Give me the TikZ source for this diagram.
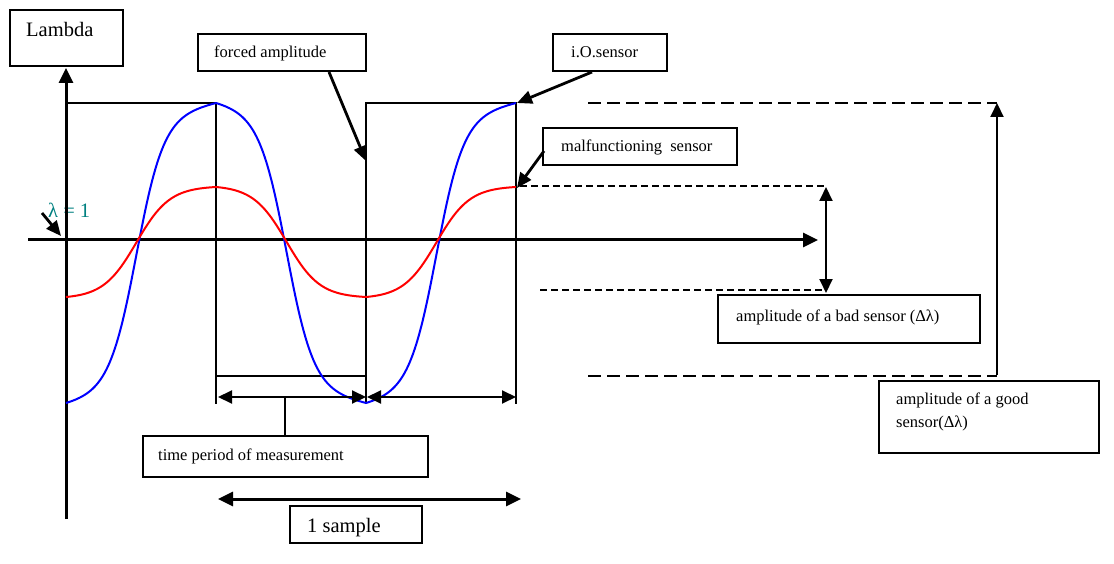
\documentclass[tikz,border=0pt]{standalone}
\usepackage{fontspec}
\setmainfont{Liberation Serif}
\usetikzlibrary{arrows.meta,calc}
\definecolor{lteal}{RGB}{0,128,128}
\pgfmathdeclarefunction{gfun}{3}{%
  \pgfmathparse{(tanh(#2*(#1-#3))+tanh(#2*#3))/(tanh(#2*(1-#3))+tanh(#2*#3))}%
}
\begin{document}
\begin{tikzpicture}[x=1pt,y=-1pt,
  box/.style={draw,line width=2pt,inner sep=0pt},
  lbl/.style={anchor=base west,inner sep=0pt,font=\fontsize{16.5}{19}\selectfont},
  big/.style={anchor=base west,inner sep=0pt,font=\fontsize{20.5}{24}\selectfont},
  conn/.style={line width=2.8pt,-{Triangle[length=15pt,width=13pt]}},
  dconn/.style={line width=2pt,{Triangle[length=14pt,width=13pt]}-{Triangle[length=14pt,width=13pt]}},
  axis/.style={line width=3pt,-{Triangle[length=15pt,width=14pt]}},
  wave/.style={line width=2pt},
  longdash/.style={line width=2pt,dash pattern=on 13pt off 6pt},
  shortdash/.style={line width=2pt,dash pattern=on 7pt off 4pt},
  curve/.style={line width=2pt,line join=round}]
\useasboundingbox (0,0) rectangle (1114,564);

% boxes
\node[box,minimum width=113pt,minimum height=56pt] (lam) at (66.5,38) {};
\node[big] (lamt) at (26,37) {Lambda};
\node[box,minimum width=168pt,minimum height=37pt] (forced) at (282,52.5) {};
\node[lbl] (forcedt) at (214,57.5) {forced amplitude};
\node[box,minimum width=114pt,minimum height=37pt] (io) at (610,52.5) {};
\node[lbl] (iot) at (571,57.5) {i.O.sensor};
\node[box,minimum width=194pt,minimum height=37pt] (malf) at (640,146.5) {};
\node[lbl] (malft) at (561,152) {malfunctioning\ \ sensor};
\node[box,minimum width=262pt,minimum height=48pt] (bad) at (849,319) {};
\node[lbl] (badt) at (736,321) {amplitude of a bad sensor (Δλ)};
\node[box,minimum width=220pt,minimum height=72pt] (good) at (989,417) {};
\node[lbl] (goodt1) at (896,404) {amplitude of a good};
\node[lbl] (goodt2) at (896,427) {sensor(Δλ)};
\node[box,minimum width=285pt,minimum height=41pt] (time) at (285.5,456.5) {};
\node[lbl] (timet) at (158,460.5) {time period of measurement};
\node[box,minimum width=132pt,minimum height=37pt] (samp) at (356,524.5) {};
\node[big] (sampt) at (307,532) {1 sample};
\node[big,text=lteal] (lamone) at (48,218) {λ = 1};

% coordinates
\coordinate (ybot) at (66,519);
\coordinate (ytop) at (66,68);
\coordinate (xl) at (28,240);
\coordinate (xr) at (818,240);
\coordinate (fatip) at (366,161);
\coordinate (iotip) at (517,103);
\coordinate (mftip) at (517,188);
\coordinate (l1s) at (42,213);
\coordinate (l1tip) at (61,236);
\coordinate (tm) at (285,397);

% axes
\draw[axis] (ybot) -- (ytop);
\draw[axis] (xl) -- (xr);

% forced square wave
\draw[wave] (66,103) -- (216,103) -- (216,404);
\draw[wave] (216,376) -- (366,376);
\draw[wave] (366,404) -- (366,103) -- (516,103) -- (516,404);

% curves (three half periods)
\foreach \i/\s in {0/1,1/-1,2/1}{
  \draw[curve,blue] plot[domain=0:1,samples=90] ({66+150*\i+150*\x},{253-150*\s*(2*(0.9*gfun(\x,5.5,0.47)+0.1*\x)-1)});
  \draw[curve,red] plot[domain=0:1,samples=90] ({66+150*\i+150*\x},{242-55*\s*(2*gfun(\x,4.5,0.47)-1)});
}

% dashed levels
\draw[longdash] (588,103) -- (997,103);
\draw[longdash] (588,375.5) -- (997,375.5);
\draw[shortdash] (520,186.5) -- (826,186.5);
\draw[shortdash] (540,290) -- (826,290);

% arrows
\draw[conn] ($(forced.south)+(47,0)$) -- (fatip);
\draw[conn] ($(io.south)+(-18,0)$) -- (iotip);
\draw[conn] ($(malf.west)+(2,4.5)$) -- (mftip);
\draw[conn] (l1s) -- (l1tip);
\draw[dconn] (826,187) -- (826,293);
\draw[line width=2pt,-{Triangle[length=14pt,width=13pt]}] (good.north -| 997,0) ++(0,-5) -- (997,103);
\draw[dconn] (218,397) -- (366,397);
\draw[dconn] (367,397) -- (516,397);
\draw[line width=2pt] (tm) -- (time.north -| tm);
\draw[line width=3pt,{Triangle[length=15pt,width=14pt]}-{Triangle[length=15pt,width=14pt]}] (218,499) -- (521,499);
\end{tikzpicture}
\end{document}
